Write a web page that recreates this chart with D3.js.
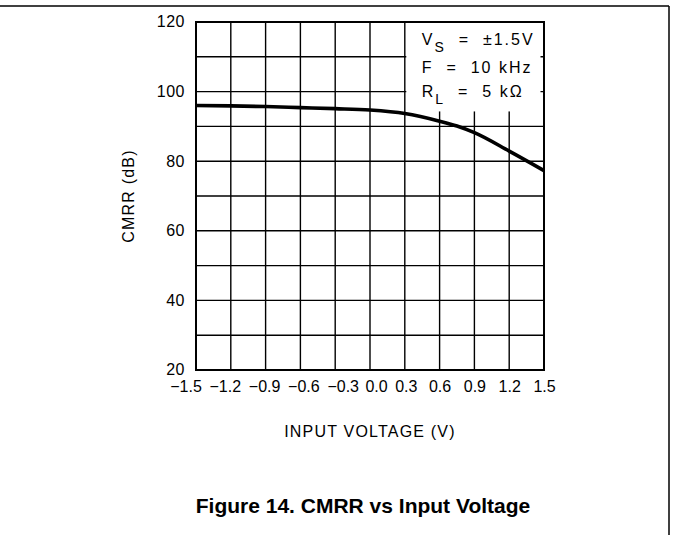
<!DOCTYPE html>
<html>
<head>
<meta charset="utf-8">
<script src="https://cdn.jsdelivr.net/npm/d3@7"></script>
<style>
  body { margin: 0; background: #fff; }
  svg { display: block; }
  .lbl { font-family: "Liberation Sans", Arial, sans-serif; fill: #000; white-space: pre; }
  .title { font-family: "Liberation Sans", Arial, sans-serif; font-weight: bold; font-size: 21px; fill: #000; }
</style>
</head>
<body>
<div id="chart"></div>
<script>
// CMRR vs input voltage
const inputVoltage = [-1.5, -1.2, -0.9, -0.6, -0.3, 0.0, 0.3, 0.6, 0.75, 0.9, 1.2, 1.5];
const cmrrDb = [96.0, 95.9, 95.7, 95.4, 95.1, 94.7, 93.7, 91.5, 90.1, 88.2, 82.9, 77.3];

const xTicks = [-1.5, -1.2, -0.9, -0.6, -0.3, 0.0, 0.3, 0.6, 0.9, 1.2, 1.5];
const yTicks = [20, 40, 60, 80, 100, 120];
const yGrid = [30, 40, 50, 60, 70, 80, 90, 100, 110];

const width = 673;
const height = 535;
const margin = { top: 22, right: 129, bottom: 165, left: 196 };
const plotW = width - margin.left - margin.right;
const plotH = height - margin.top - margin.bottom;

const svg = d3
  .select("#chart")
  .append("svg")
  .attr("width", width)
  .attr("height", height);

// page frame (top rule + right rule)
svg.append("line").attr("x1", 0).attr("x2", 669).attr("y1", 6).attr("y2", 6)
  .attr("stroke", "#000").attr("stroke-width", 1.5);
svg.append("line").attr("x1", 669).attr("x2", 669).attr("y1", 6).attr("y2", height)
  .attr("stroke", "#000").attr("stroke-width", 1.5);

const g = svg.append("g").attr("transform", `translate(${margin.left},${margin.top})`);

const x = d3.scaleLinear().domain([-1.5, 1.5]).range([0, plotW]);
const y = d3.scaleLinear().domain([20, 120]).range([plotH, 0]);

// grid
g.append("g")
  .selectAll("line.v")
  .data(xTicks)
  .enter()
  .append("line")
  .attr("x1", (d) => x(d))
  .attr("x2", (d) => x(d))
  .attr("y1", 0)
  .attr("y2", plotH)
  .attr("stroke", "#000")
  .attr("stroke-width", 1.4);

g.append("g")
  .selectAll("line.h")
  .data(yGrid)
  .enter()
  .append("line")
  .attr("x1", 0)
  .attr("x2", plotW)
  .attr("y1", (d) => y(d))
  .attr("y2", (d) => y(d))
  .attr("stroke", "#000")
  .attr("stroke-width", 1.4);

// white box behind the conditions text
g.append("rect")
  .attr("x", x(0.3) + 1.5)
  .attr("y", 1)
  .attr("width", x(1.5) - x(0.3) - 5)
  .attr("height", y(94.3) - 1)
  .attr("fill", "#fff");

// frame
g.append("rect")
  .attr("width", plotW)
  .attr("height", plotH)
  .attr("fill", "none")
  .attr("stroke", "#000")
  .attr("stroke-width", 2);

// curve
const line = d3
  .line()
  .x((d, i) => x(inputVoltage[i]))
  .y((d) => y(d))
  .curve(d3.curveMonotoneX);

g.append("path")
  .datum(cmrrDb)
  .attr("d", line)
  .attr("fill", "none")
  .attr("stroke", "#000")
  .attr("stroke-width", 3.6)
  .attr("stroke-linejoin", "round");

// y axis labels
const yAxis = d3.axisLeft(y).tickValues(yTicks).tickSize(0).tickPadding(11).tickFormat(d3.format("d"));
g.append("g")
  .call(yAxis)
  .call((s) => s.select(".domain").remove())
  .selectAll("text")
  .attr("class", "lbl")
  .style("font-size", "16px")
  .style("letter-spacing", "0.5px")
  .attr("dy", "0.3em");

// x axis labels (the original spreads the negative ones out a bit)
const fmtX = (d) => (d < 0 ? "\u2212" + Math.abs(d).toFixed(1) : d.toFixed(1));
const xShift = (d) => (d < 0 ? (d + 0.9) * 15 - 1.5 : d === 0 ? 6 : d === 0.3 ? 1 : 0);
const xAxis = d3.axisBottom(x).tickValues(xTicks).tickSize(0).tickPadding(11).tickFormat(fmtX);
g.append("g")
  .attr("transform", `translate(0,${plotH})`)
  .call(xAxis)
  .call((s) => s.select(".domain").remove())
  .selectAll("text")
  .attr("class", "lbl")
  .style("font-size", "16px")
  .attr("dx", xShift);

// axis titles
g.append("text")
  .attr("class", "lbl")
  .attr("text-anchor", "middle")
  .attr("x", plotW / 2)
  .attr("y", plotH + 67)
  .style("font-size", "16px")
  .style("letter-spacing", "1.2px")
  .text("INPUT VOLTAGE (V)");

g.append("text")
  .attr("class", "lbl")
  .attr("text-anchor", "middle")
  .attr("transform", `translate(-62,${plotH / 2}) rotate(-90)`)
  .style("font-size", "16px")
  .style("letter-spacing", "1.2px")
  .text("CMRR (dB)");

// test conditions
const cond = g.append("text").attr("class", "lbl").style("font-size", "16px").style("letter-spacing", "2px");
const cx = x(0.3) + 17;
cond.append("tspan").attr("x", cx).attr("y", 23).text("V");
cond.append("tspan").attr("dy", 7).style("font-size", "14px").text("S");
cond.append("tspan").attr("dy", -7).text("  =  \u00B11.5V");
cond.append("tspan").attr("x", cx).attr("y", 51).text("F  =  10 kHz");
cond.append("tspan").attr("x", cx).attr("y", 75).text("R");
cond.append("tspan").attr("dy", 7).style("font-size", "14px").text("L");
cond.append("tspan").attr("dy", -7).text("  =  5 k\u03A9");

// figure caption
svg.append("text")
  .attr("class", "title")
  .attr("text-anchor", "middle")
  .attr("x", 363)
  .attr("y", 513)
  .text("Figure 14. CMRR vs Input Voltage");
</script>
</body>
</html>
